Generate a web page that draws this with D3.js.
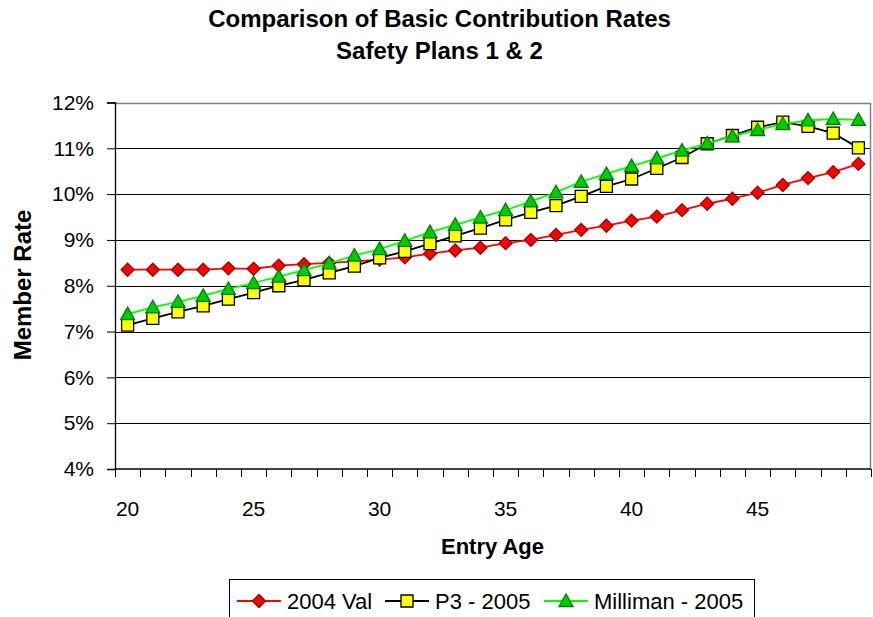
<!DOCTYPE html>
<html>
<head>
<meta charset="utf-8">
<script src="https://cdn.jsdelivr.net/npm/d3@7"></script>
<style>
  html, body { margin: 0; padding: 0; background: #fff; }
  svg { display: block; font-family: "Liberation Sans", Arial, sans-serif; }
</style>
</head>
<body>
<svg id="chart" width="873" height="617"></svg>
<script>
// Entry ages (category axis)
const ages = [20, 21, 22, 23, 24, 25, 26, 27, 28, 29, 30, 31, 32, 33, 34,
              35, 36, 37, 38, 39, 40, 41, 42, 43, 44, 45, 46, 47, 48, 49];

// Member contribution rates, percent
const val2004 = [8.35, 8.35, 8.35, 8.35, 8.38, 8.37, 8.44, 8.47, 8.50, 8.53,
                 8.57, 8.62, 8.70, 8.77, 8.83, 8.93, 9.00, 9.11, 9.22, 9.31,
                 9.42, 9.51, 9.65, 9.79, 9.90, 10.03, 10.20, 10.35, 10.48, 10.66];
const p3_2005 = [7.14, 7.29, 7.43, 7.56, 7.71, 7.85, 8.00, 8.13, 8.28, 8.43,
                 8.61, 8.75, 8.92, 9.09, 9.26, 9.44, 9.60, 9.75, 9.95, 10.17,
                 10.33, 10.56, 10.80, 11.10, 11.28, 11.46, 11.57, 11.48, 11.33, 11.01];
const milliman2005 = [7.38, 7.53, 7.65, 7.78, 7.93, 8.06, 8.20, 8.34, 8.49, 8.66,
                      8.80, 8.98, 9.17, 9.33, 9.49, 9.65, 9.84, 10.04, 10.27, 10.44,
                      10.61, 10.78, 10.95, 11.11, 11.26, 11.40, 11.53, 11.61, 11.64, 11.62];

const seriesNames = ["2004 Val", "P3 - 2005", "Milliman - 2005"];
const yTicks = [4, 5, 6, 7, 8, 9, 10, 11, 12];
const xLabelAges = [20, 25, 30, 35, 40, 45];

const series = [
  { name: seriesNames[0], values: val2004, line: "#ff0000", fill: "#ff0000", stroke: "#a00000", shape: "diamond" },
  { name: seriesNames[1], values: p3_2005, line: "#000000", fill: "#ffff00", stroke: "#000000", shape: "square" },
  { name: seriesNames[2], values: milliman2005, line: "#00ff00", fill: "#00cc00", stroke: "#008000", shape: "triangle" }
];

const svg = d3.select("#chart");
const plot = { left: 115, right: 871, top: 102.5, bottom: 469 };

const x = d3.scaleBand().domain(ages).range([plot.left, plot.right]).padding(0);
const y = d3.scaleLinear().domain([4, 12]).range([plot.bottom, plot.top]);
const cx = a => x(a) + x.bandwidth() / 2;

// Horizontal gridlines
svg.append("g").selectAll("line").data(yTicks.slice(1, -1)).join("line")
  .attr("x1", plot.left).attr("x2", plot.right)
  .attr("y1", d => Math.round(y(d)) + 0.5).attr("y2", d => Math.round(y(d)) + 0.5)
  .attr("stroke", "#000").attr("stroke-width", 1);

// Plot area border (top and right edges)
svg.append("path")
  .attr("d", `M${plot.left},${Math.round(plot.top) + 0.5}H${plot.right - 0.5}V${plot.bottom}`)
  .attr("fill", "none").attr("stroke", "#808080").attr("stroke-width", 1.5);

// Y axis
const yAxis = svg.append("g")
  .attr("transform", `translate(${plot.left},0)`)
  .call(d3.axisLeft(y).tickValues(yTicks).tickFormat(d => d + "%").tickSize(8).tickPadding(13));
yAxis.select(".domain").attr("stroke", "#000").attr("stroke-width", 1.3);
yAxis.selectAll(".tick line").attr("stroke", "#000");
yAxis.selectAll("text").attr("font-size", 21).attr("font-family", "Liberation Sans, Arial, sans-serif").attr("fill", "#000");

// X axis: line, tick marks on category boundaries, labels every 5 years
const xAxis = svg.append("g");
xAxis.append("line")
  .attr("x1", plot.left).attr("x2", plot.right)
  .attr("y1", plot.bottom).attr("y2", plot.bottom)
  .attr("stroke", "#000").attr("stroke-width", 1.5);
const boundaries = ages.map(a => x(a)).concat([x(ages[ages.length - 1]) + x.bandwidth()]);
xAxis.selectAll("line.tk").data(boundaries).join("line").attr("class", "tk")
  .attr("x1", d => Math.round(d) + 0.5).attr("x2", d => Math.round(d) + 0.5)
  .attr("y1", plot.bottom).attr("y2", plot.bottom + 8)
  .attr("stroke", "#000");
xAxis.selectAll("text").data(xLabelAges).join("text")
  .attr("x", d => cx(d)).attr("y", 516)
  .attr("text-anchor", "middle").attr("font-size", 21).text(d => d);

// Marker shapes
function marker(sel, shape, size) {
  const h = size / 2;
  if (shape === "diamond") {
    sel.attr("d", `M0,${-h - 0.5}L${h + 0.5},0L0,${h + 0.5}L${-h - 0.5},0Z`);
  } else if (shape === "square") {
    sel.attr("d", `M${-h},${-h}H${h}V${h}H${-h}Z`);
  } else {
    sel.attr("d", `M0,${-h - 1}L${h + 1},${h - 0.5}L${-h - 1},${h - 0.5}Z`);
  }
}

const line = d3.line().x((d, i) => cx(ages[i])).y(d => y(d));

series.forEach(s => {
  const g = svg.append("g");
  g.append("path").datum(s.values)
    .attr("d", line).attr("fill", "none")
    .attr("stroke", s.line).attr("stroke-width", 1.8);
  g.selectAll("path.m").data(s.values).join("path").attr("class", "m")
    .attr("transform", (d, i) => `translate(${cx(ages[i])},${y(d)})`)
    .call(marker, s.shape, 12)
    .attr("fill", s.fill).attr("stroke", s.stroke).attr("stroke-width", 1.3);
});

// Titles
const title = svg.append("g").attr("font-weight", "bold").attr("text-anchor", "middle").attr("font-size", 24);
title.append("text").attr("x", 439.5).attr("y", 27).text("Comparison of Basic Contribution Rates");
title.append("text").attr("x", 439.5).attr("y", 59).text("Safety Plans 1 & 2");

svg.append("text")
  .attr("transform", "translate(31,285) rotate(-90)")
  .attr("text-anchor", "middle").attr("font-weight", "bold").attr("font-size", 24)
  .text("Member Rate");

svg.append("text")
  .attr("x", 492.5).attr("y", 554)
  .attr("text-anchor", "middle").attr("font-weight", "bold").attr("font-size", 22)
  .text("Entry Age");

// Legend
const legend = svg.append("g");
legend.append("rect")
  .attr("x", 229.5).attr("y", 579.5).attr("width", 525).attr("height", 50)
  .attr("fill", "#fff").attr("stroke", "#000").attr("stroke-width", 1);
const legendX = [237, 385, 544];
series.forEach((s, i) => {
  const lx = legendX[i], ly = 601;
  legend.append("line")
    .attr("x1", lx).attr("x2", lx + 44).attr("y1", ly).attr("y2", ly)
    .attr("stroke", s.line).attr("stroke-width", 1.8);
  legend.append("path")
    .attr("transform", `translate(${lx + 22},${ly})`)
    .call(marker, s.shape, 12)
    .attr("fill", s.fill).attr("stroke", s.stroke).attr("stroke-width", 1.3);
  legend.append("text")
    .attr("x", lx + 50).attr("y", ly + 8)
    .attr("font-size", 22).text(s.name);
});
</script>
</body>
</html>
